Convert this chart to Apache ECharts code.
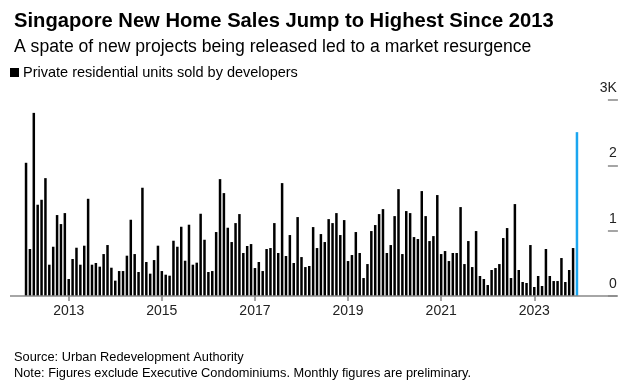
<!DOCTYPE html>
<html><head><meta charset="utf-8">
<script src="https://cdn.jsdelivr.net/npm/echarts@6/dist/echarts.min.js"></script>
<style>html,body{margin:0;padding:0;background:#fff}#c{width:638px;height:388px}</style>
</head><body><div id="c"></div>
<script>
// Monthly private residential units sold by developers (Jan 2013 - Nov 2024)
const sales2013 = [2039, 719, 2803, 1397, 1473, 1804, 479, 754, 1239, 1101, 1269, 260];
const sales2014 = [566, 739, 479, 770, 1488, 479, 505, 449, 642, 780, 433, 235];
const sales2015 = [382, 382, 617, 1167, 642, 367, 1657, 520, 342, 550, 770, 382];
const sales2016 = [326, 311, 846, 754, 1060, 540, 1091, 479, 510, 1259, 861, 367];
const sales2017 = [382, 979, 1789, 1575, 1045, 826, 1116, 1254, 658, 765, 795, 428];
const sales2018 = [520, 382, 719, 734, 1116, 658, 1728, 612, 933, 505, 1208, 596];
const sales2019 = [443, 459, 1055, 734, 948, 826, 1177, 1116, 1269, 933, 1162, 535];
const sales2020 = [627, 979, 658, 275, 489, 994, 1086, 1254, 1330, 658, 780, 1223];
const sales2021 = [1636, 642, 1300, 1269, 902, 872, 1606, 1223, 841, 917, 1545, 642];
const sales2022 = [688, 535, 658, 658, 1361, 489, 841, 443, 994, 306, 260, 168];
const sales2023 = [398, 428, 489, 887, 1040, 275, 1407, 398, 214, 199, 780, 138];
const sales2024 = [306, 153, 719, 306, 229, 229, 581, 214, 398, 734, 2508];

const years = ['2013','2014','2015','2016','2017','2018','2019','2020','2021','2022','2023','2024'];
const tickYears = ['2013','2015','2017','2019','2021','2023'];
const seriesName = 'Private residential units sold by developers';
const titleText = 'Singapore New Home Sales Jump to Highest Since 2013';
const subtitleText = 'A spate of new projects being released led to a market resurgence';
const sourceText = 'Source: Urban Redevelopment Authority';
const noteText = 'Note: Figures exclude Executive Condominiums. Monthly figures are preliminary.';

const yearly = [sales2013, sales2014, sales2015, sales2016, sales2017, sales2018,
                sales2019, sales2020, sales2021, sales2022, sales2023, sales2024];
const categories = [];
const values = [];
yearly.forEach((arr, yi) => {
  arr.forEach((v, mi) => {
    categories.push(years[yi] + '-' + String(mi + 1).padStart(2, '0'));
    values.push(v);
  });
});
const lastIdx = values.length - 1;
const barData = values.map((v, i) => i === lastIdx
  ? { value: v, itemStyle: { color: '#1ba6f0' } }
  : v);

function isTick(val) {
  const p = val.split('-');
  return p[1] === '12' && tickYears.indexOf(p[0]) >= 0;
}

const FONT = '"Liberation Sans", Arial, sans-serif';
const chart = echarts.init(document.getElementById('c'), null, { renderer: 'canvas' });
chart.setOption({
  animation: false,
  backgroundColor: '#fff',
  title: [
    { text: titleText, left: 9, top: 6, textStyle: { fontFamily: FONT, fontSize: 20.2, fontWeight: 'bold', color: '#000' } },
    { text: subtitleText, left: 9, top: 33, textStyle: { fontFamily: FONT, fontSize: 17.6, fontWeight: 'normal', color: '#000' } },
    { text: sourceText, left: 9, top: 346, textStyle: { fontFamily: FONT, fontSize: 12.8, fontWeight: 'normal', color: '#000' } },
    { text: noteText, left: 9, top: 362, textStyle: { fontFamily: FONT, fontSize: 12.8, fontWeight: 'normal', color: '#000' } }
  ],
  legend: {
    left: 5, top: 60, icon: 'rect', itemWidth: 9, itemHeight: 9, itemGap: 4,
    data: [{ name: seriesName, itemStyle: { color: '#000' } }],
    textStyle: { fontFamily: FONT, fontSize: 14.5, color: '#000', padding: [0, 0, 0, -1] }
  },
  grid: { left: 24.1, right: 59.1, top: 100, bottom: 92, containLabel: false },
  xAxis: {
    type: 'category',
    data: categories,
    boundaryGap: true,
    axisLine: { show: false },
    axisTick: { show: true, alignWithLabel: true, length: 5, interval: (i, v) => isTick(v), lineStyle: { color: '#888', width: 1.5 } },
    axisLabel: {
      interval: (i, v) => isTick(v),
      formatter: v => v.split('-')[0],
      fontFamily: FONT, fontSize: 14, color: '#222', margin: 8
    },
    splitLine: { show: false }
  },
  yAxis: {
    type: 'value', min: 0, max: 3000, interval: 1000,
    position: 'right', offset: 39,
    axisLine: { show: false },
    axisTick: { show: true, inside: true, length: 10, lineStyle: { color: '#888', width: 1.5 } },
    splitLine: { show: false },
    axisLabel: {
      inside: true, margin: 1, align: 'right', verticalAlign: 'bottom', padding: [0, 0, 5, 0],
      fontFamily: FONT, fontSize: 14, color: '#222',
      formatter: v => v === 3000 ? '3K' : String(v / 1000)
    }
  },
  series: [{
    name: seriesName, type: 'bar', data: barData, barWidth: 2.5,
    itemStyle: { color: '#000' }, silent: true
  }]
});
const y0 = chart.convertToPixel({ yAxisIndex: 0 }, 0);
chart.setOption({
  graphic: [{ type: 'line', z: 10, shape: { x1: 10, y1: y0, x2: 617, y2: y0 }, style: { stroke: '#888', lineWidth: 1.5 } }]
});
</script>
</body></html>
